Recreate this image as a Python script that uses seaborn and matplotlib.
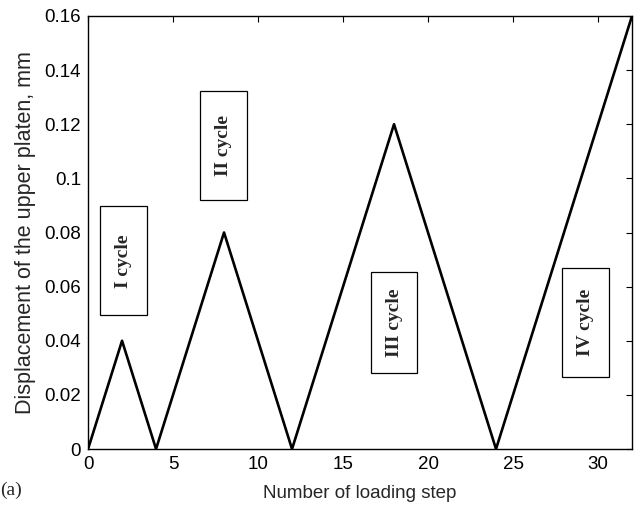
import matplotlib
matplotlib.use("Agg")
import matplotlib.pyplot as plt
from matplotlib.patches import Rectangle
import pandas as pd
import seaborn as sns

# Loading steps and platen displacement (mm) at each turning point
steps = [0, 2, 4, 8, 12, 18, 24, 32]
displacement = [0, 0.04, 0, 0.08, 0, 0.12, 0, 0.16]

# Cycle labels and where their boxes sit (data coordinates)
cycle_labels = ["I cycle", "II cycle", "III cycle", "IV cycle"]
label_x = [2.09, 7.97, 18.0, 29.26]
label_y = [0.0695, 0.112, 0.0467, 0.0467]
label_h = [0.0403, 0.0403, 0.0373, 0.0403]

x_ticks = [0, 5, 10, 15, 20, 25, 30]
y_ticks = [0, 0.02, 0.04, 0.06, 0.08, 0.1, 0.12, 0.14, 0.16]
y_tick_labels = ["0", "0.02", "0.04", "0.06", "0.08", "0.1", "0.12", "0.14", "0.16"]

sns.set_style("white")
plt.rcParams["font.family"] = ["Liberation Sans", "DejaVu Sans"]

df = pd.DataFrame({"step": steps, "disp": displacement})

fig = plt.figure(figsize=(6.38, 5.11), dpi=100)
ax = fig.add_axes([0.138, 0.1213, 0.8526, 0.8474])

sns.lineplot(data=df, x="step", y="disp", color="black", linewidth=1.9, ax=ax)

ax.set_xlim(0, 32)
ax.set_ylim(0, 0.16)
ax.set_xticks(x_ticks)
ax.set_yticks(y_ticks)
ax.set_yticklabels(y_tick_labels)
ax.tick_params(direction="in", length=4, width=0.8, top=True, right=True,
               labelsize=13.5, colors="black")
ax.tick_params(axis="x", pad=5)
ax.tick_params(axis="y", pad=5)
for s in ax.spines.values():
    s.set_color("black")
    s.set_linewidth(1.0)

ax.set_xlabel("Number of loading step", fontsize=13.5, labelpad=9)
ax.set_ylabel("Displacement of the upper platen, mm", fontsize=15.5, labelpad=6)

box_w = 2.76
for lab, cx, cy, h in zip(cycle_labels, label_x, label_y, label_h):
    ax.add_patch(Rectangle((cx - box_w / 2, cy - h / 2), box_w, h,
                           facecolor="white", edgecolor="black", linewidth=0.9,
                           zorder=3))
    ax.text(cx, cy, lab, rotation=90, ha="center", va="center",
            family=["Liberation Serif", "DejaVu Serif"], fontweight="bold",
            fontsize=14, zorder=4)

fig.text(0.0, 0.04, "(a)", family=["Liberation Serif", "DejaVu Serif"],
         fontsize=14, ha="left", va="center")

fig.savefig("out.png", dpi=100)
